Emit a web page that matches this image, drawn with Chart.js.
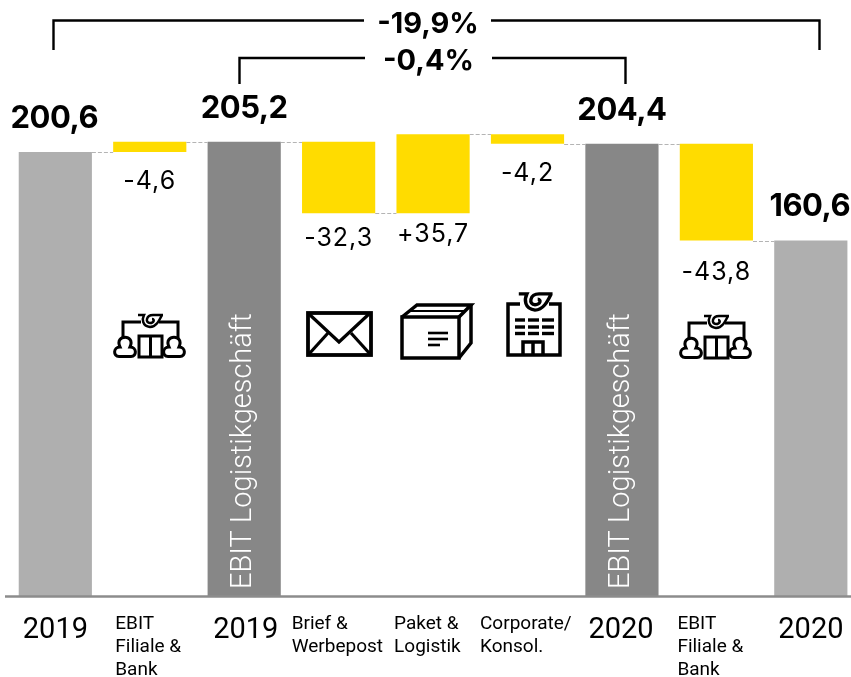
<!DOCTYPE html>
<html lang="de">
<head>
<meta charset="utf-8">
<title>EBIT Bridge</title>
<script src="https://cdn.jsdelivr.net/npm/chart.js@4"></script>
<style>
html,body{margin:0;padding:0;background:#fff;overflow:hidden;width:851px;height:677px}
canvas{display:block}
</style>
</head>
<body>
<canvas id="c" width="860" height="677"></canvas>
<script>
const categories = [
  "2019",
  ["EBIT", "Filiale &", "Bank"],
  "2019",
  ["Brief &", "Werbepost"],
  ["Paket &", "Logistik"],
  ["Corporate/", "Konsol."],
  "2020",
  ["EBIT", "Filiale &", "Bank"],
  "2020"
];
const barLow  = [0, 200.6, 0, 172.9, 172.9, 204.4, 0, 160.6, 0];
const barHigh = [200.6, 205.2, 205.2, 205.2, 208.6, 208.6, 204.4, 204.4, 160.6];
const connectorLevels = [200.6, 205.2, 205.2, 172.9, 208.6, 204.4, 204.4, 160.6];
const valueLabels = ["200,6", "-4,6", "205,2", "-32,3", "+35,7", "-4,2", "204,4", "-43,8", "160,6"];
const changeLabels = ["-19,9%", "-0,4%"];
const pillarText = "EBIT Logistikgeschäft";

const YELLOW = "#FFDC00", DARK = "#878787", LIGHT = "#AFAFAF";
const barColors = [LIGHT, YELLOW, DARK, YELLOW, YELLOW, YELLOW, DARK, YELLOW, LIGHT];
const FONT = "Inter, Roboto, sans-serif";

/* label placement relative to the bar: [dx, dy from bar top or bottom, edge] */
const labelPlacement = [
  [-1,-33.5,"top"],[0,29,"bottom"],[0,-33.5,"top"],[0,25,"bottom"],[0,21,"bottom"],[0,30,"bottom"],[0,-33,"top"],[0,32,"bottom"],[-1,-34,"top"]
];
const tickShift = [-32.5,-34.5,-31,-47,-39,-47.5,-33.5,-39,-32.5];

const tickAligner = {
  id: "tickAligner",
  beforeDraw(chart) {
    const s = chart.scales.x;
    s.getLabelItems(chart.chartArea).forEach((it, i) => {
      it.options.textAlign = "left";
      it.options.translation[0] = s.getPixelForTick(i) + tickShift[i];
    });
  }
};

function line(ctx, pts) {
  ctx.beginPath();
  pts.forEach((p, i) => i ? ctx.lineTo(p[0], p[1]) : ctx.moveTo(p[0], p[1]));
  ctx.stroke();
}
function swirl(ctx, cx, cy, k) {
  ctx.save();
  ctx.translate(cx, cy);
  ctx.scale(k, k);
  ctx.lineWidth = 2.5;
  ctx.beginPath();
  ctx.moveTo(-12, -6);
  ctx.lineTo(-6, -6);
  ctx.bezierCurveTo(-8, -2, -8, 5, 0, 6);
  ctx.bezierCurveTo(6, 6, 9, 0, 12, -6);
  ctx.moveTo(13, -6);
  ctx.lineTo(3, -6);
  ctx.bezierCurveTo(-4, -6, -5, 2, 0, 2);
  ctx.bezierCurveTo(4, 2, 5, -2, 2, -2);
  ctx.stroke();
  ctx.restore();
}
function shop(ctx, x, y) {
  ctx.lineWidth = 3;
  line(ctx, [[x + 9, y + 25], [x + 9, y + 8], [x + 27, y + 8]]);
  line(ctx, [[x + 45, y + 8], [x + 64, y + 8], [x + 64, y + 25]]);
  swirl(ctx, x + 36, y + 7, 1);
  ctx.lineWidth = 3;
  ctx.beginPath();
  ctx.rect(x + 25, y + 22, 23, 21);
  ctx.moveTo(x + 36.5, y + 22); ctx.lineTo(x + 36.5, y + 43);
  ctx.stroke();
  [x + 11, x + 60].forEach(cx => {
    ctx.beginPath();
    ctx.moveTo(cx - 6, y + 42.5);
    ctx.bezierCurveTo(cx - 12, y + 42.5, cx - 12, y + 33, cx - 5, y + 33);
    ctx.bezierCurveTo(cx - 11, y + 20, cx + 11, y + 20, cx + 5, y + 33);
    ctx.bezierCurveTo(cx + 12, y + 33, cx + 12, y + 42.5, cx + 6, y + 42.5);
    ctx.closePath();
    ctx.stroke();
  });
}
function envelope(ctx, x, y) {
  ctx.lineWidth = 3.8;
  ctx.strokeRect(x + 2, y + 2, 63, 42);
  ctx.lineWidth = 3.2;
  line(ctx, [[x + 3, y + 3], [x + 33, y + 31], [x + 63, y + 3]]);
  line(ctx, [[x + 3, y + 43], [x + 22, y + 22]]);
  line(ctx, [[x + 64, y + 43], [x + 45, y + 22]]);
}
function box(ctx, x, y) {
  ctx.lineWidth = 3.5;
  ctx.strokeRect(x + 2, y + 14, 57, 41);
  line(ctx, [[x + 2, y + 14], [x + 17, y + 2], [x + 71, y + 2], [x + 59, y + 14]]);
  line(ctx, [[x + 71, y + 2], [x + 71, y + 40], [x + 59, y + 55]]);
  ctx.lineWidth = 2.2;
  line(ctx, [[x + 10, y + 8], [x + 65, y + 8]]);
  ctx.lineWidth = 2.6;
  line(ctx, [[x + 28, y + 30], [x + 48, y + 30]]);
  line(ctx, [[x + 28, y + 36], [x + 48, y + 36]]);
  line(ctx, [[x + 28, y + 42], [x + 40, y + 42]]);
}
function building(ctx, x, y) {
  ctx.lineWidth = 3.5;
  line(ctx, [[x + 14, y + 10], [x + 2, y + 10], [x + 2, y + 61], [x + 54, y + 61], [x + 54, y + 10], [x + 43, y + 10]]);
  swirl(ctx, x + 29, y + 8, 1.35);
  ctx.lineWidth = 3.4;
  [26, 33, 39.5].forEach(ry => {
    [[9, 19], [22, 33], [36, 48]].forEach(([a, b]) => line(ctx, [[x + a, y + ry], [x + b, y + ry]]));
  });
  ctx.lineWidth = 3.5;
  line(ctx, [[x + 17, y + 61], [x + 17, y + 48], [x + 37, y + 48], [x + 37, y + 61]]);
  line(ctx, [[x + 27, y + 48], [x + 27, y + 61]]);
}

const annotations = {
  id: "annotations",
  afterDatasetsDraw(chart) {
    const ctx = chart.ctx, y = chart.scales.y, bars = chart.getDatasetMeta(0).data;
    ctx.save();

    /* axis line */
    ctx.strokeStyle = "#8c8c8c"; ctx.lineWidth = 2.5;
    line(ctx, [[5, y.getPixelForValue(0) + 0.5], [851, y.getPixelForValue(0) + 0.5]]);

    /* connectors between bars */
    ctx.strokeStyle = "#b4b4b4"; ctx.lineWidth = 1; ctx.setLineDash([4, 2]);
    connectorLevels.forEach((v, i) => {
      const py = Math.round(y.getPixelForValue(v)) + 0.5;
      line(ctx, [[bars[i].x + bars[i].width / 2, py], [bars[i + 1].x - bars[i + 1].width / 2, py]]);
    });
    ctx.setLineDash([]);

    /* values */
    ctx.fillStyle = "#000"; ctx.textAlign = "center"; ctx.textBaseline = "middle";
    valueLabels.forEach((t, i) => {
      const total = barLow[i] === 0;
      ctx.font = (total ? "700 31px " : "400 25px ") + FONT;
      ctx.letterSpacing = total ? "-0.5px" : "1px";
      const [dx, dy, edge] = labelPlacement[i];
      const py = y.getPixelForValue(edge === "top" ? barHigh[i] : barLow[i]) + dy;
      ctx.fillText(t, bars[i].x + dx, py);
    });
    ctx.letterSpacing = "0px";

    /* change brackets */
    ctx.strokeStyle = "#000"; ctx.lineWidth = 2.4;
    line(ctx, [[53.5, 50], [53.5, 20.5], [364, 20.5]]);
    line(ctx, [[491, 20.5], [819.5, 20.5], [819.5, 50]]);
    line(ctx, [[239.5, 84], [239.5, 58], [365, 58]]);
    line(ctx, [[492, 58], [625.5, 58], [625.5, 84]]);
    ctx.font = "700 29px " + FONT;
    ctx.fillText(changeLabels[0], 428, 24);
    ctx.fillText(changeLabels[1], 428.5, 61);

    /* rotated pillar captions */
    ctx.fillStyle = "#fff"; ctx.textAlign = "left";
    ctx.font = "300 29px Roboto, sans-serif";
    [2, 6].forEach(i => {
      ctx.save();
      ctx.translate(bars[i].x, y.getPixelForValue(0) - 7);
      ctx.rotate(-Math.PI / 2);
      ctx.fillText(pillarText, 0, 0);
      ctx.restore();
    });

    /* icons */
    ctx.strokeStyle = "#000"; ctx.lineJoin = "miter"; ctx.lineCap = "butt";
    shop(ctx, 114, 314);
    envelope(ctx, 306, 311);
    box(ctx, 400, 303);
    building(ctx, 506, 294);
    shop(ctx, 680, 315);
    ctx.restore();
  }
};

new Chart(document.getElementById("c"), {
  type: "bar",
  data: {
    labels: categories,
    datasets: [{
      data: barLow.map((v, i) => [v, barHigh[i]]),
      backgroundColor: barColors,
      borderWidth: 0,
      barPercentage: 1,
      categoryPercentage: 0.775
    }]
  },
  options: {
    responsive: false,
    animation: false,
    layout: { padding: { left: 8.1, right: 1.6, top: 0, bottom: 0 } },
    plugins: { legend: { display: false }, tooltip: { enabled: false } },
    scales: {
      x: {
        grid: { display: false, drawTicks: false },
        border: { display: false },
        afterFit: s => { s.height = 81; },
        ticks: {
          color: "#000",
          padding: 16.5,
          autoSkip: false,
          maxRotation: 0,
          minRotation: 0,
          font: ctx => Array.isArray(categories[ctx.index])
            ? { family: "Roboto, sans-serif", size: 19, lineHeight: "23px" }
            : { family: "Roboto, sans-serif", size: 29, lineHeight: "36px" }
        }
      },
      y: { display: false, min: 0, max: 269.3 }
    }
  },
  plugins: [tickAligner, annotations]
});
</script>
</body>
</html>
